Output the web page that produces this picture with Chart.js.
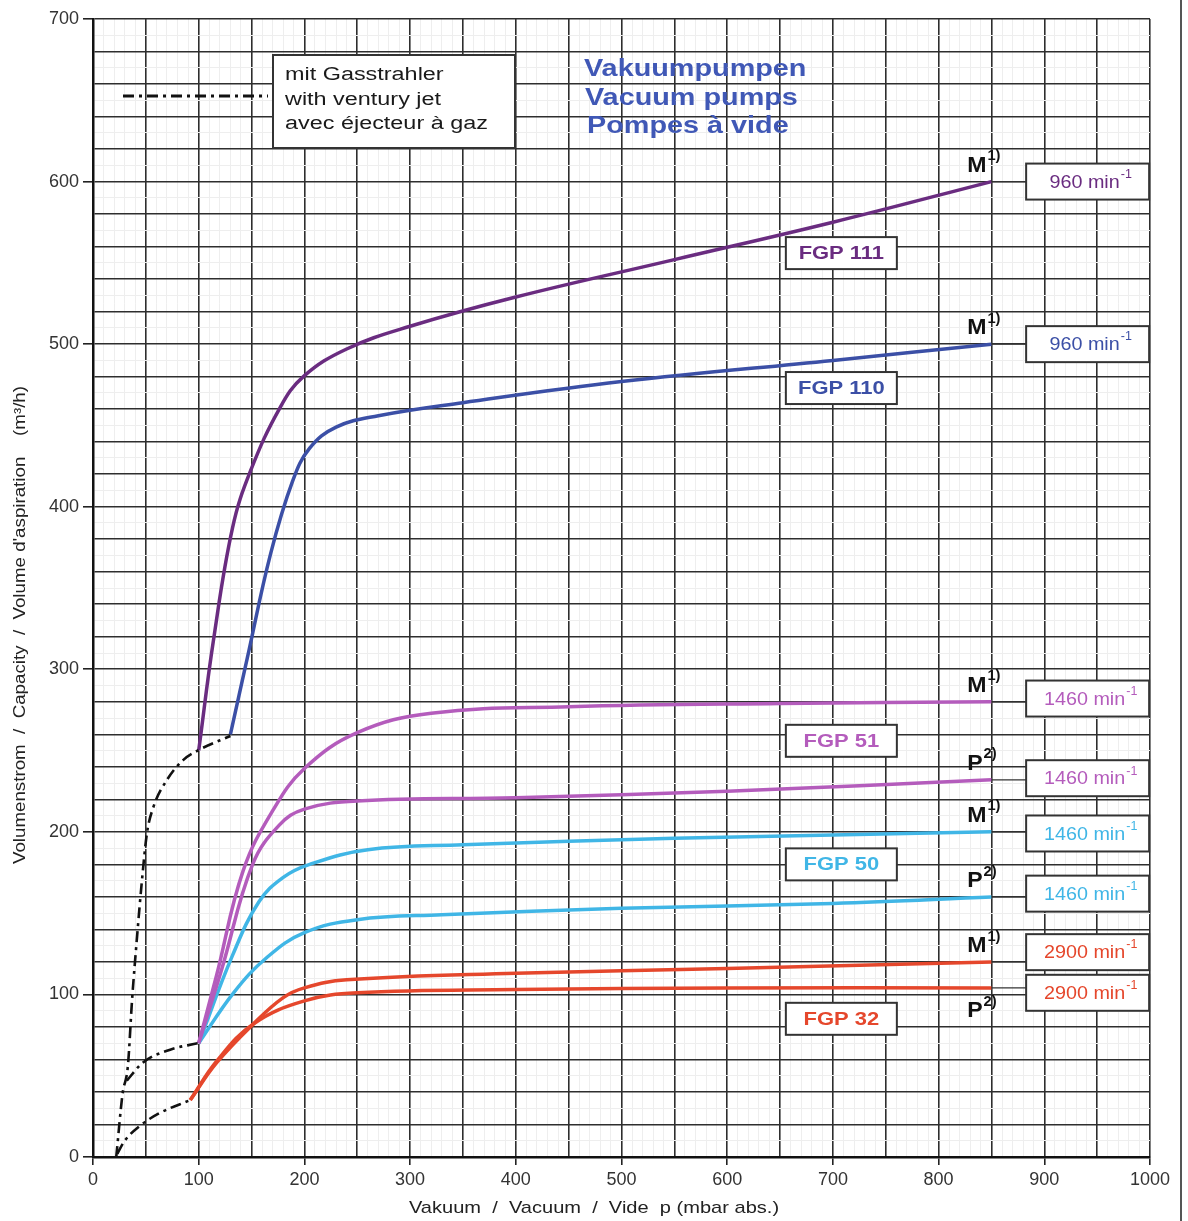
<!DOCTYPE html>
<html>
<head>
<meta charset="utf-8">
<script src="https://cdn.jsdelivr.net/npm/chart.js@4.4.1/dist/chart.umd.min.js"></script>
<style>
  html, body { margin: 0; padding: 0; background: #fff; }
  #wrap { width: 1188px; height: 1221px; }
</style>
</head>
<body>
<div id="wrap"><canvas id="pumpchart" width="1188" height="1221"></canvas></div>
<script>
// pressure (mbar abs.) and capacity (m3/h)
const fgp111P = [100, 114, 132, 149, 177, 199, 240, 300, 400, 550, 700, 850];
const fgp111Q = [250, 318, 387, 422, 461, 480, 497, 511, 529, 552, 575, 600];

const fgp110P = [130, 146, 168, 189, 205, 230, 270, 350, 500, 700, 850];
const fgp110Q = [260, 307, 371, 416, 436, 449, 456, 464, 477, 490, 500];

const fgp51mP = [100, 117, 142, 170, 200, 250, 320, 450, 650, 850];
const fgp51mQ = [70, 112, 176, 213, 239, 261, 273, 277, 279, 280];

const fgp51pP = [100, 122, 151, 176, 200, 250, 400, 600, 850];
const fgp51pQ = [70, 116, 180, 204, 214, 219, 221, 225, 232];

const fgp50mP = [100, 132, 157, 180, 205, 260, 350, 550, 850];
const fgp50mQ = [70, 124, 157, 172, 180, 189, 192, 196, 200];

const fgp50pP = [100, 133, 165, 200, 250, 330, 500, 700, 850];
const fgp50pQ = [70, 101, 123, 138, 146, 149, 153, 156, 160];

const fgp32mP = [92, 117, 152, 180, 200, 240, 400, 600, 850];
const fgp32mQ = [35, 58, 82, 98, 104, 109, 113, 116, 120];

const fgp32pP = [92, 117, 152, 200, 250, 400, 600, 850];
const fgp32pQ = [35, 59, 82, 96, 101, 103, 104, 104];

// gas jet (dash-dot) branches
const jetUpperP = [22, 28, 33, 37, 42, 46, 51, 57, 70, 85, 99, 130];
const jetUpperQ = [0, 39, 56, 97, 138, 168, 199, 215, 232, 244, 250, 259];
const jetMidP = [32, 47, 73, 99];
const jetMidQ = [47, 58, 66, 70];
const jetLowP = [23, 30, 44, 63, 92];
const jetLowQ = [2, 10, 19, 27, 35];

const xTickLabels = [0, 100, 200, 300, 400, 500, 600, 700, 800, 900, 1000];
const yTickLabels = [0, 100, 200, 300, 400, 500, 600, 700];

const modelNames = ["FGP 111", "FGP 110", "FGP 51", "FGP 50", "FGP 32"];
const modelColors = ["#6a2c80", "#3b4fa6", "#b45cbc", "#40b6e6", "#e5472c"];
const modelLabelQ = [556, 473, 256, 180, 85];

const speedTexts = ["960", "960", "1460", "1460", "1460", "1460", "2900", "2900"];
const speedColors = ["#6a2c80", "#3b4fa6", "#b45cbc", "#b45cbc", "#40b6e6", "#40b6e6", "#e5472c", "#e5472c"];
const speedBoxQ = [600, 500, 282, 233, 199, 162, 126, 101];
const curveEndQ = [600, 500, 280, 232, 200, 160, 120, 104];
const curveKind = ["M", "M", "M", "P", "M", "P", "M", "P"];

const toPoints = (xs, ys) => xs.map((x, i) => ({ x: x, y: ys[i] }));

const curve = (xs, ys, color) => ({
  data: toPoints(xs, ys),
  borderColor: color,
  borderWidth: 3.5,
  pointRadius: 0,
  tension: 0.4,
  fill: false,
});

const jet = (xs, ys) => ({
  data: toPoints(xs, ys),
  borderColor: "#111",
  borderWidth: 2.6,
  borderDash: [11, 5, 3, 5],
  pointRadius: 0,
  cubicInterpolationMode: "monotone",
  fill: false,
});

const SANS = "'Liberation Sans', Arial, sans-serif";

const drawStretched = (ctx, text, x, y, font, color, align, stretch) => {
  ctx.save();
  ctx.font = font;
  ctx.fillStyle = color;
  ctx.textBaseline = "middle";
  const w = ctx.measureText(text).width * stretch;
  let left = x;
  if (align === "center") left = x - w / 2;
  if (align === "right") left = x - w;
  ctx.translate(left, y);
  ctx.scale(stretch, 1);
  ctx.textAlign = "left";
  ctx.fillText(text, 0, 0);
  ctx.restore();
  return w;
};

const drawWithSup = (ctx, base, sup, x, y, size, bold, color, align, stretch) => {
  const wt = bold ? "bold " : "";
  const baseFont = `${wt}${size}px ${SANS}`;
  const supFont = `${wt}${Math.round(size * 0.62)}px ${SANS}`;
  ctx.save();
  ctx.font = baseFont;
  const wb = ctx.measureText(base).width * stretch;
  ctx.font = supFont;
  const ws = ctx.measureText(sup).width * stretch;
  ctx.restore();
  let left = x;
  if (align === "center") left = x - (wb + ws + 1) / 2;
  drawStretched(ctx, base, left, y, baseFont, color, "left", stretch);
  drawStretched(ctx, sup, left + wb + 1, y - size * 0.42, supFont, color, "left", stretch);
};

const box = (ctx, cx, cy, w, h) => {
  ctx.save();
  ctx.fillStyle = "#fff";
  ctx.fillRect(cx - w / 2, cy - h / 2, w, h);
  ctx.strokeStyle = "#333";
  ctx.lineWidth = 2;
  ctx.strokeRect(cx - w / 2, cy - h / 2, w, h);
  ctx.restore();
};

const sheetText = {
  id: "sheetText",
  afterDatasetsDraw(chart) {
    const ctx = chart.ctx;
    const xs = chart.scales.x;
    const ys = chart.scales.y;

    // title
    const titleColor = "#4058b6";
    drawStretched(ctx, "Vakuumpumpen", 584, 69, `bold 24px ${SANS}`, titleColor, "left", 1.2);
    drawStretched(ctx, "Vacuum pumps", 585, 98, `bold 24px ${SANS}`, titleColor, "left", 1.2);
    drawStretched(ctx, "Pompes à vide", 587, 126, `bold 24px ${SANS}`, titleColor, "left", 1.2);

    // gas jet legend
    ctx.save();
    ctx.fillStyle = "#fff";
    ctx.fillRect(273, 55, 242, 93);
    ctx.strokeStyle = "#333";
    ctx.lineWidth = 2;
    ctx.strokeRect(273, 55, 242, 93);
    ctx.strokeStyle = "#111";
    ctx.lineWidth = 3;
    ctx.setLineDash([11, 5, 3, 5]);
    ctx.beginPath();
    ctx.moveTo(123, 96);
    ctx.lineTo(268, 96);
    ctx.stroke();
    ctx.restore();
    drawStretched(ctx, "mit Gasstrahler", 285, 75, `18px ${SANS}`, "#1a1a1a", "left", 1.3);
    drawStretched(ctx, "with ventury jet", 285, 100, `18px ${SANS}`, "#1a1a1a", "left", 1.3);
    drawStretched(ctx, "avec éjecteur à gaz", 285, 124, `18px ${SANS}`, "#1a1a1a", "left", 1.3);

    // model boxes
    modelNames.forEach((name, i) => {
      const cx = xs.getPixelForValue(708);
      const cy = ys.getPixelForValue(modelLabelQ[i]);
      box(ctx, cx, cy, 111, 32);
      drawStretched(ctx, name, cx, cy + 1, `bold 18px ${SANS}`, modelColors[i], "center", 1.22);
    });

    // speed boxes, connectors, M / P marks
    const endX = xs.getPixelForValue(850);
    const boxCx = xs.getPixelForValue(941);
    speedTexts.forEach((t, i) => {
      const cy = ys.getPixelForValue(speedBoxQ[i]);
      const ly = ys.getPixelForValue(curveEndQ[i]);
      ctx.save();
      ctx.strokeStyle = "#333";
      ctx.lineWidth = 1.2;
      ctx.beginPath();
      ctx.moveTo(endX, ly);
      ctx.lineTo(boxCx - 61, ly);
      ctx.stroke();
      ctx.restore();
      box(ctx, boxCx, cy, 123, 36);
      drawWithSup(ctx, t + " min", "-1", boxCx + 3, cy + 1, 19, false, speedColors[i], "center", 1.04);

      const isM = curveKind[i] === "M";
      const below = i === 7;
      const my = below ? ly + 23 : ly - 16;
      drawWithSup(ctx, isM ? "M" : "P", isM ? "1)" : "2)", xs.getPixelForValue(827), my, 22, true, "#111", "left", 1.05);
    });

    // axis titles
    drawStretched(ctx, "Vakuum  /  Vacuum  /  Vide  p (mbar abs.)", 594, 1208, `17px ${SANS}`, "#222", "center", 1.18);
    ctx.save();
    ctx.translate(21, 625);
    ctx.rotate(-Math.PI / 2);
    drawStretched(ctx, "Volumenstrom  /  Capacity  /  Volume d'aspiration    (m³/h)", 0, 0, `16px ${SANS}`, "#222", "center", 1.17);
    ctx.restore();

    // scan border on the right
    ctx.save();
    ctx.strokeStyle = "#555";
    ctx.lineWidth = 2;
    ctx.beginPath();
    ctx.moveTo(1181, 0);
    ctx.lineTo(1181, 1221);
    ctx.stroke();
    ctx.restore();
  },
};

const createChart = (ctx) => {
  return new Chart(ctx, {
    type: "line",
    data: {
      datasets: [
        jet(jetUpperP, jetUpperQ),
        jet(jetMidP, jetMidQ),
        jet(jetLowP, jetLowQ),
        curve(fgp111P, fgp111Q, modelColors[0]),
        curve(fgp110P, fgp110Q, modelColors[1]),
        curve(fgp51mP, fgp51mQ, modelColors[2]),
        curve(fgp51pP, fgp51pQ, modelColors[2]),
        curve(fgp50mP, fgp50mQ, modelColors[3]),
        curve(fgp50pP, fgp50pQ, modelColors[3]),
        curve(fgp32mP, fgp32mQ, modelColors[4]),
        curve(fgp32pP, fgp32pQ, modelColors[4]),
      ],
    },
    options: {
      responsive: false,
      animation: false,
      devicePixelRatio: 1,
      layout: { padding: { left: 0, top: 19, right: 38, bottom: 0 } },
      plugins: { legend: { display: false }, tooltip: { enabled: false } },
      scales: {
        x: {
          type: "linear",
          min: 0,
          max: 1000,
          afterFit: (s) => { s.height = 64; },
          afterBuildTicks: (s) => {
            const t = [];
            for (let v = 0; v <= 1000; v += 10) t.push({ value: v });
            s.ticks = t;
          },
          ticks: {
            autoSkip: false,
            maxRotation: 0,
            padding: 4,
            color: "#333",
            font: { size: 18, family: SANS },
            callback: (v) => (xTickLabels.includes(v) ? String(v) : ""),
          },
          border: { color: "#111", width: 2.5 },
          grid: {
            tickLength: 8,
            color: (c) => (c.tick.value % 50 === 0 ? "#2e2e2e" : "#eeeeee"),
            lineWidth: (c) => (c.tick.value % 50 === 0 ? 1.6 : 1),
            tickColor: (c) => (c.tick.value % 100 === 0 ? "#222" : "rgba(0,0,0,0)"),
          },
        },
        y: {
          type: "linear",
          min: 0,
          max: 700,
          afterFit: (s) => { s.width = 93; },
          afterBuildTicks: (s) => {
            const t = [];
            for (let v = 0; v <= 700; v += 10) t.push({ value: v });
            s.ticks = t;
          },
          ticks: {
            autoSkip: false,
            padding: 4,
            color: "#333",
            font: { size: 18, family: SANS },
            callback: (v) => (yTickLabels.includes(v) ? String(v) : ""),
          },
          border: { color: "#111", width: 2.5 },
          grid: {
            tickLength: 10,
            color: (c) => (c.tick.value % 20 === 0 ? "#2e2e2e" : "#eeeeee"),
            lineWidth: (c) => (c.tick.value % 20 === 0 ? 1.6 : 1),
            tickColor: (c) => (c.tick.value % 100 === 0 ? "#222" : "rgba(0,0,0,0)"),
          },
        },
      },
    },
    plugins: [sheetText],
  });
};

const pumpChart = createChart(document.getElementById("pumpchart").getContext("2d"));
</script>
</body>
</html>
